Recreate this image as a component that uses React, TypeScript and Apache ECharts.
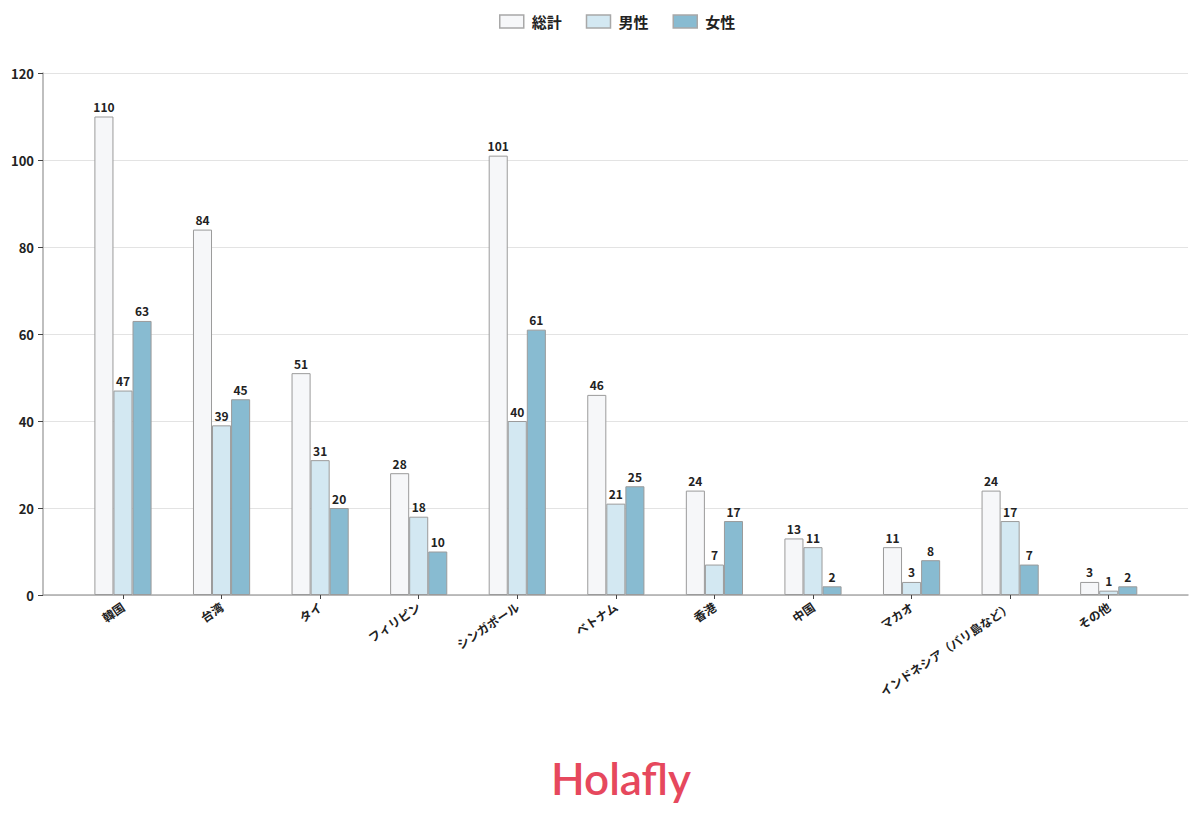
import React, { useEffect, useRef } from "react";
import * as echarts from "echarts";

const categories = ["韓国", "台湾", "タイ", "フィリピン", "シンガポール", "ベトナム", "香港", "中国", "マカオ", "インドネシア（バリ島など）", "その他"];
const totalValues = [110, 84, 51, 28, 101, 46, 24, 13, 11, 24, 3];
const maleValues = [47, 39, 31, 18, 40, 21, 7, 11, 3, 17, 1];
const femaleValues = [63, 45, 20, 10, 61, 25, 17, 2, 8, 7, 2];
const seriesNames = ["総計", "男性", "女性"];

const FONT = "'Noto Sans CJK JP', 'Noto Sans', sans-serif";

export default function App() {
  const ref = useRef<HTMLDivElement>(null);
  useEffect(() => {
    if (!ref.current) return;
    const chart = echarts.init(ref.current, null, { renderer: "svg" });
    const colors = ["#f6f7f9", "#d3e8f2", "#88bbd1"];
    const mk = (name: string, data: number[], color: string) => ({
      name,
      type: "bar",
      xAxisIndex: 1,
      yAxisIndex: 1,
      data,
      barGap: "0%",
      barCategoryGap: "42%",
      itemStyle: { color, borderColor: "#9b9b9b", borderWidth: 1 },
      label: {
        show: true,
        position: "top",
        distance: 4,
        fontFamily: FONT,
        fontSize: 12,
        fontWeight: "bold",
        color: "#222",
      },
    });
    chart.setOption({
      animation: false,
      textStyle: { fontFamily: FONT },
      legend: {
        top: 9,
        left: 494,
        icon: "rect",
        itemWidth: 24,
        itemHeight: 13,
        itemGap: 24,
        textStyle: { fontFamily: FONT, fontSize: 15, fontWeight: "bold", color: "#222", padding: [0, 0, 0, 3] },
        data: seriesNames.map((n, i) => ({ name: n, itemStyle: { color: colors[i], borderColor: "#a8a8a8", borderWidth: 1.5 } })),
      },
      grid: [
        { left: 43, right: 12, top: 73, bottom: 233, containLabel: false },
        { left: 73.7, right: 42, top: 73, bottom: 233, containLabel: false },
      ],
      xAxis: [
        {
          type: "value",
          gridIndex: 0,
          min: 0,
          max: 1,
          axisLine: { show: true, onZero: false, lineStyle: { color: "#aaa", width: 1.5 } },
          axisTick: { show: false },
          axisLabel: { show: false },
          splitLine: { show: false },
        },
        {
          type: "category",
          gridIndex: 1,
          data: categories,
          axisLine: { show: false },
          axisTick: { show: true, alignWithLabel: true, length: 4, lineStyle: { color: "#444" } },
          axisLabel: {
            interval: 0,
            rotate: 34,
            margin: 10,
            fontFamily: FONT,
            fontSize: 12,
            fontWeight: "bold",
            color: "#222",
          },
          splitLine: { show: false },
        },
      ],
      yAxis: [
        {
          type: "value",
          gridIndex: 0,
          min: 0,
          max: 120,
          interval: 20,
          axisLine: { show: true, lineStyle: { color: "#aaa", width: 1.5 } },
          axisTick: { show: true, length: 5, lineStyle: { color: "#444" } },
          axisLabel: { fontFamily: FONT, fontSize: 13, fontWeight: "bold", color: "#222", margin: 9 },
          splitLine: { show: true, lineStyle: { color: "#e3e3e3", width: 1 } },
        },
        {
          type: "value",
          gridIndex: 1,
          min: 0,
          max: 120,
          interval: 20,
          show: false,
          splitLine: { show: false },
        },
      ],
      series: [
        mk(seriesNames[0], totalValues, colors[0]),
        mk(seriesNames[1], maleValues, colors[1]),
        mk(seriesNames[2], femaleValues, colors[2]),
      ],
      graphic: [
        {
          type: "text",
          x: 621,
          y: 756,
          style: {
            text: "Holafly",
            textAlign: "center",
            fontFamily: "Lato, 'Open Sans', sans-serif",
            fontSize: 44,
            fontWeight: 600,
            fill: "#e6485d",
          },
        },
      ],
    });
    return () => chart.dispose();
  }, []);
  return <div ref={ref} style={{ width: 1200, height: 828, position: "absolute", left: 0, top: 0, background: "#fff" }} />;
}
